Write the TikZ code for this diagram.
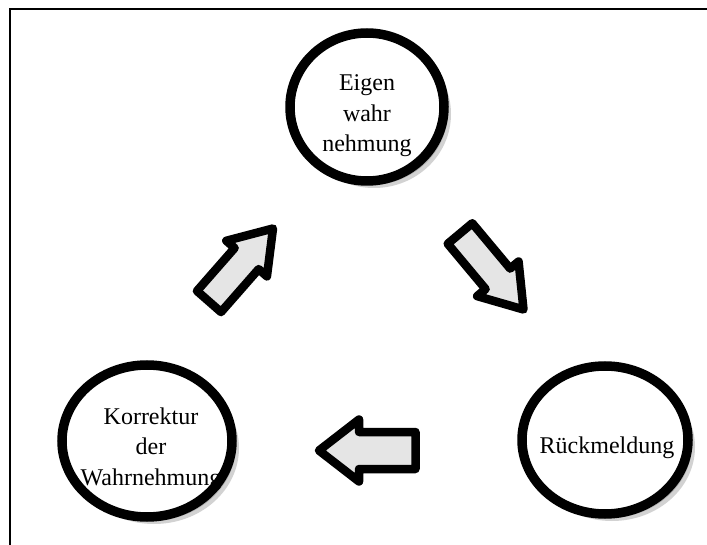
\documentclass[tikz,border=0pt]{standalone}
\usepackage{fontspec}
\setmainfont{Liberation Serif}
\usetikzlibrary{shapes.geometric,shadows,calc}
\tikzset{
  bubble/.style={ellipse, draw=black, line width=9.5pt, fill=white, inner sep=0pt,
    general shadow={fill=gray!35, shadow xshift=7pt, shadow yshift=-7pt},
    general shadow={fill=gray!65, shadow xshift=4pt, shadow yshift=-4pt}},
  lbl/.style={align=center, inner sep=0pt, font=\fontsize{24}{30.5}\selectfont},
  arrowbox/.style={draw=black, fill=gray!20, line width=8.5pt, line join=round},
  frameline/.style={line width=1.3pt}
}
\begin{document}
\begin{tikzpicture}[x=1pt,y=-1pt]
\useasboundingbox (0,0) rectangle (707,545);
\coordinate (frTL) at (10,9);
\coordinate (frTR) at (707,9);
\coordinate (frBL) at (10,545);
\draw[frameline] (frBL) -- (frTL) -- (frTR);

\node[bubble, minimum width=154pt, minimum height=148pt] (eigen) at (367,107) {};
\node[bubble, minimum width=170pt, minimum height=152pt] (korr) at (147,441) {};
\node[bubble, minimum width=166pt, minimum height=148pt] (rueck) at (605,440) {};

\node[lbl] (eigenT) at (367,116) {Eigen\\wahr\\nehmung};
\node[lbl] (korrT) at (151,449) {Korrektur\\der\\Wahrnehmung};
\node[lbl] (rueckT) at (607,448) {Rückmeldung};

% block arrows: tail, tip, shaft half width s, head half width H, head length h
\newcommand\barrow[5]{%
  \coordinate (ta) at #1;
  \coordinate (ti) at #2;
  \coordinate (hb) at ($(ti)!#5!(ta)$);
  \draw[arrowbox] ($(ta)!#3!90:(ti)$) -- ($(hb)!#3!-90:(ta)$) -- ($(hb)!#4!-90:(ta)$)
    -- (ti) -- ($(hb)!#4!90:(ta)$) -- ($(hb)!#3!90:(ta)$) -- ($(ta)!#3!-90:(ti)$) -- cycle;}
\barrow{(209,301.5)}{(273,228.5)}{16pt}{27pt}{40pt}
\barrow{(460,233.5)}{(523.5,309.5)}{16pt}{27pt}{40pt}
\barrow{(415.5,450.5)}{(319,450.5)}{18.5pt}{31pt}{40pt}
\end{tikzpicture}
\end{document}
